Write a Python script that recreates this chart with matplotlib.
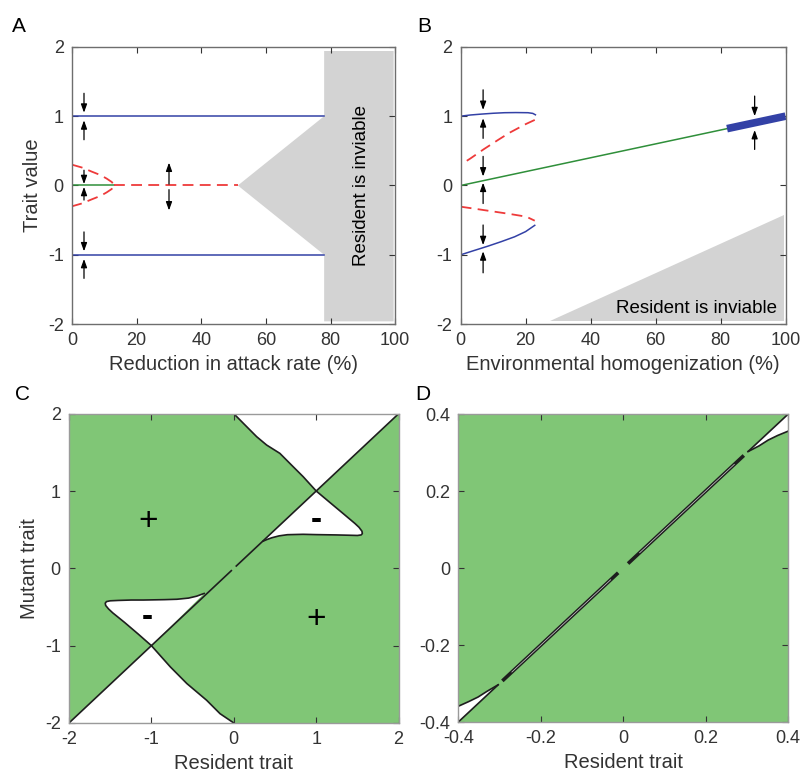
import matplotlib
matplotlib.use("Agg")
import matplotlib.pyplot as plt

plt.rcParams['font.family'] = ['Liberation Sans', 'DejaVu Sans']
plt.rcParams['axes.unicode_minus'] = False

# ---------------- Panel A data ----------------
a_blue_up_x = [0, 78]
a_blue_up_y = [1, 1]
a_blue_dn_x = [0, 78]
a_blue_dn_y = [-1, -1]
a_green_x = [0, 13]
a_green_y = [0, 0]
a_red_par_x = [0, 3, 6.1, 8.8, 10.7, 12.3, 13.1, 12.3, 10.7, 8.8, 6.1, 3, 0]
a_red_par_y = [0.3, 0.26, 0.2, 0.15, 0.1, 0.05, 0, -0.05, -0.1, -0.15, -0.2, -0.26, -0.3]
a_red_line_x = [13.1, 51.3]
a_red_line_y = [0, 0]
a_gray_x = [51.3, 78, 78, 99.5, 99.5, 78, 78]
a_gray_y = [0, 1, 1.94, 1.94, -1.96, -1.96, -1]
a_arrow_x = [3.7, 3.7, 3.7, 3.7, 3.7, 3.7, 30, 30]
a_arrow_y0 = [1.33, 0.66, 0.22, -0.21, -0.67, -1.34, 0.02, -0.06]
a_arrow_y1 = [1.05, 0.94, 0.02, -0.02, -0.95, -1.06, 0.33, -0.36]

# ---------------- Panel B data ----------------
b_blue_up_x = [0, 3, 6.4, 10, 13.5, 17, 20.7, 22.2, 23]
b_blue_up_y = [1.0, 1.017, 1.03, 1.042, 1.05, 1.052, 1.05, 1.04, 1.02]
b_red_up_x = [22.8, 20, 15, 11.5, 7, 3, 0]
b_red_up_y = [0.946, 0.885, 0.76, 0.657, 0.52, 0.39, 0.3]
b_green_x = [0, 82]
b_green_y = [0, 0.82]
b_thick_x = [82, 100]
b_thick_y = [0.82, 1.0]
b_red_dn_x = [0, 5, 10, 15, 20.2, 22.8]
b_red_dn_y = [-0.306, -0.34, -0.375, -0.41, -0.45, -0.508]
b_blue_dn_x = [0, 4, 8.4, 12.5, 16.6, 20, 22.8]
b_blue_dn_y = [-1.0, -0.94, -0.875, -0.81, -0.74, -0.665, -0.575]
b_gray_x = [27.6, 99.5, 99.5]
b_gray_y = [-1.95, -1.95, -0.42]
b_arrow_x = [6.9, 6.9, 6.9, 6.9, 6.9, 6.9, 90.5, 90.5]
b_arrow_y0 = [1.38, 0.68, 0.42, -0.26, -0.57, -1.26, 1.29, 0.52]
b_arrow_y1 = [1.09, 0.97, 0.13, 0.04, -0.86, -0.95, 1.0, 0.80]

# ---------------- Panel C data ----------------
c_diag_x = [-2, 2]
c_top_x = [0.0, 0.136, 0.277, 0.398, 0.559, 0.70, 0.842, 1.0]
c_top_y = [2.0, 1.854, 1.703, 1.595, 1.487, 1.336, 1.185, 1.0]
c_lobe_x = [1.0, 1.16, 1.325, 1.47, 1.52, 1.555, 1.56, 1.545, 1.50, 1.40, 1.245,
            1.0, 0.84, 0.65, 0.55, 0.46, 0.40, 0.357]
c_lobe_y = [1.0, 0.857, 0.71, 0.58, 0.53, 0.48, 0.45, 0.432, 0.425, 0.428, 0.432,
            0.436, 0.44, 0.435, 0.42, 0.395, 0.372, 0.352]
c_bot_x = [-1.0, -0.77, -0.57, -0.33, -0.167, 0.0]
c_bot_y = [-1.0, -1.275, -1.49, -1.706, -1.88, -2.0]
c_lobe2_x = [-1.0, -1.16, -1.325, -1.47, -1.52, -1.555, -1.56, -1.545, -1.50, -1.40,
             -1.245, -1.096, -0.84, -0.69, -0.55, -0.45, -0.40, -0.36]
c_lobe2_y = [-1.0, -0.85, -0.70, -0.575, -0.525, -0.48, -0.45, -0.43, -0.42, -0.415,
             -0.41, -0.41, -0.405, -0.40, -0.385, -0.36, -0.34, -0.325]
c_sign_x = [-1.04, 1.0, 0.995, -1.047]
c_sign_y = [0.60, 0.615, -0.658, -0.64]
c_sign_txt = ['+', '-', '+', '-']

# ---------------- Panel D data ----------------
d_lens1_x = [0.303, 0.33, 0.352, 0.375, 0.4]
d_lens1_y = [0.303, 0.318, 0.333, 0.345, 0.356]
d_lens2_x = [-0.4, -0.375, -0.352, -0.33, -0.303]
d_lens2_y = [-0.359, -0.347, -0.335, -0.32, -0.303]
d_seg_x0 = [-0.4, -0.293, 0.012, 0.303]
d_seg_x1 = [-0.303, -0.012, 0.293, 0.4]
d_white_x0 = [-0.27, 0.04]
d_white_x1 = [-0.03, 0.27]

BLUE = '#3341a6'
GREEN = '#2f8f3a'
RED = '#ee3a3a'
GRAY = '#d3d3d3'
PIPGREEN = '#80c676'
TXT = '#333333'
FRAME = '#6e6e6e'

fig = plt.figure(figsize=(8.04, 7.81), dpi=100)
axA = fig.add_axes([0.0896, 0.585, 0.402, 0.355])
axB = fig.add_axes([0.573, 0.585, 0.404, 0.355])
axC = fig.add_axes([0.0858, 0.0743, 0.410, 0.396])
axD = fig.add_axes([0.570, 0.0755, 0.410, 0.394])


def style(ax):
    ax.tick_params(direction='in', top=True, right=True, length=4, width=0.8,
                   labelsize=13, colors=TXT, pad=6)
    for s in ax.spines.values():
        s.set_color(FRAME)
        s.set_linewidth(1.0)


def arrows(ax, xs, y0s, y1s):
    for x, y0, y1 in zip(xs, y0s, y1s):
        ax.annotate('', xy=(x, y1), xytext=(x, y0),
                    arrowprops=dict(arrowstyle='-|>,head_length=0.5,head_width=0.18',
                                    color='k', lw=0.9, shrinkA=0, shrinkB=0,
                                    mutation_scale=10))

dash = (0, (6, 3.5))

# Panel A
axA.fill(a_gray_x, a_gray_y, color=GRAY, lw=0)
axA.plot(a_blue_up_x, a_blue_up_y, color=BLUE, lw=1.1)
axA.plot(a_blue_dn_x, a_blue_dn_y, color=BLUE, lw=1.1)
axA.plot(a_green_x, a_green_y, color=GREEN, lw=1.1)
axA.plot(a_red_par_x, a_red_par_y, color=RED, lw=1.3, ls=dash)
axA.plot(a_red_line_x, a_red_line_y, color=RED, lw=1.3, ls=dash)
arrows(axA, a_arrow_x, a_arrow_y0, a_arrow_y1)
axA.text(89.7, 0.0, 'Resident is inviable', rotation=90, ha='center', va='center',
         fontsize=13.5, color='k')
axA.set_xlim(0, 100)
axA.set_ylim(-2, 2)
axA.set_xticks([0, 20, 40, 60, 80, 100])
axA.set_yticks([-2, -1, 0, 1, 2])
axA.set_xlabel('Reduction in attack rate (%)', fontsize=14.5, color=TXT, labelpad=4)
axA.set_ylabel('Trait value', fontsize=14.5, color=TXT, labelpad=4)
style(axA)

# Panel B
axB.fill(b_gray_x, b_gray_y, color=GRAY, lw=0)
axB.plot(b_blue_up_x, b_blue_up_y, color=BLUE, lw=1.1)
axB.plot(b_red_up_x, b_red_up_y, color=RED, lw=1.3, ls=dash)
axB.plot(b_green_x, b_green_y, color=GREEN, lw=1.1)
axB.plot(b_thick_x, b_thick_y, color=BLUE, lw=5.5, solid_capstyle='butt')
axB.plot(b_red_dn_x, b_red_dn_y, color=RED, lw=1.3, ls=dash)
axB.plot(b_blue_dn_x, b_blue_dn_y, color=BLUE, lw=1.1)
arrows(axB, b_arrow_x, b_arrow_y0, b_arrow_y1)
axB.text(72.7, -1.78, 'Resident is inviable', ha='center', va='center',
         fontsize=13.5, color='k')
axB.set_xlim(0, 100)
axB.set_ylim(-2, 2)
axB.set_xticks([0, 20, 40, 60, 80, 100])
axB.set_yticks([-2, -1, 0, 1, 2])
axB.set_xlabel('Environmental homogenization (%)', fontsize=14.5, color=TXT, labelpad=4)
style(axB)

# Panel C
axC.set_facecolor(PIPGREEN)
EDGE = '#1e1e1e'
axC.fill(c_top_x + [2], c_top_y + [2], color='white', lw=0)
axC.fill(c_lobe_x, c_lobe_y, color='white', lw=0)
axC.fill(c_bot_x + [-2], c_bot_y + [-2], color='white', lw=0)
axC.fill(c_lobe2_x, c_lobe2_y, color='white', lw=0)
for xs, ys in [(c_top_x, c_top_y), (c_lobe_x, c_lobe_y),
               (c_bot_x, c_bot_y), (c_lobe2_x, c_lobe2_y)]:
    axC.plot(xs, ys, color=EDGE, lw=1.2, solid_joinstyle='round')
axC.plot([c_diag_x[0], -0.03], [c_diag_x[0], -0.03], color=EDGE, lw=1.2)
axC.plot([0.03, c_diag_x[1]], [0.03, c_diag_x[1]], color=EDGE, lw=1.2)
for x, y, t in zip(c_sign_x, c_sign_y, c_sign_txt):
    if t == '+':
        axC.text(x, y, t, ha='center', va='center', fontsize=24, color='k')
    else:
        axC.text(x, y, t, ha='center', va='center', fontsize=24, color='k',
                 fontweight='bold')
axC.set_xlim(-2, 2)
axC.set_ylim(-2, 2)
axC.set_xticks([-2, -1, 0, 1, 2])
axC.set_yticks([-2, -1, 0, 1, 2])
axC.set_xlabel('Resident trait', fontsize=14.5, color=TXT, labelpad=4)
axC.set_ylabel('Mutant trait', fontsize=14.5, color=TXT, labelpad=4)
style(axC)
for s in axC.spines.values():
    s.set_color('#9a9a9a')

# Panel D
axD.set_facecolor(PIPGREEN)
axD.fill(d_lens1_x + [0.4], d_lens1_y + [0.4], color='white', lw=0)
axD.fill(d_lens2_x + [-0.4], d_lens2_y + [-0.4], color='white', lw=0)
axD.plot(d_lens1_x, d_lens1_y, color=EDGE, lw=1.2)
axD.plot(d_lens2_x, d_lens2_y, color=EDGE, lw=1.2)
for x0, x1 in zip(d_seg_x0, d_seg_x1):
    lw = 1.2 if (abs(x0) > 0.29 and abs(x1) > 0.29) else 2.6
    axD.plot([x0, x1], [x0, x1], color=EDGE, lw=lw, solid_capstyle='butt')
for x0, x1 in zip(d_white_x0, d_white_x1):
    axD.plot([x0, x1], [x0, x1], color='white', lw=0.5, alpha=0.8)
axD.set_xlim(-0.4, 0.4)
axD.set_ylim(-0.4, 0.4)
axD.set_xticks([-0.4, -0.2, 0, 0.2, 0.4])
axD.set_yticks([-0.4, -0.2, 0, 0.2, 0.4])
axD.set_xticklabels(['-0.4', '-0.2', '0', '0.2', '0.4'])
axD.set_yticklabels(['-0.4', '-0.2', '0', '0.2', '0.4'])
axD.set_xlabel('Resident trait', fontsize=14.5, color=TXT, labelpad=4)
style(axD)
for s in axD.spines.values():
    s.set_color('#9a9a9a')

# Panel letters
fig.text(0.0149, 0.959, 'A', fontsize=15, color='k', va='baseline')
fig.text(0.519, 0.959, 'B', fontsize=15, color='k', va='baseline')
fig.text(0.0187, 0.488, 'C', fontsize=15, color='k', va='baseline')
fig.text(0.516, 0.488, 'D', fontsize=15, color='k', va='baseline')

fig.savefig('out.png', dpi=100)
